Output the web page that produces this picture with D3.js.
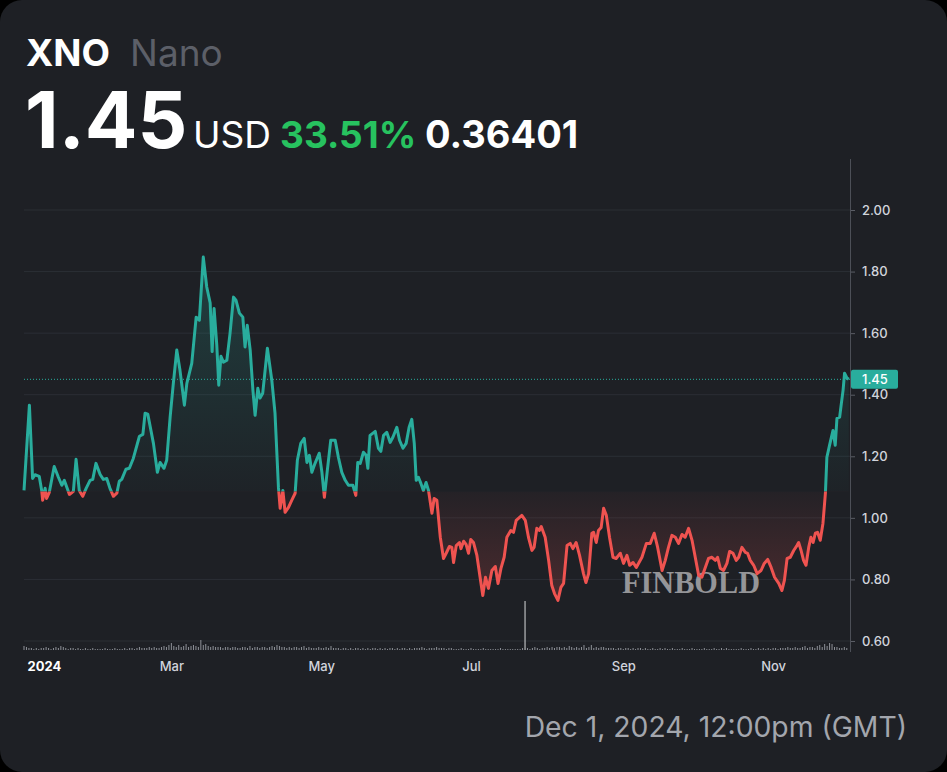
<!DOCTYPE html>
<html><head><meta charset="utf-8">
<script src="https://cdn.jsdelivr.net/npm/d3@7"></script>
<style>html,body{margin:0;padding:0;background:#000;} svg{display:block}</style>
</head><body><svg id="c" width="947" height="772"></svg>
<script>
// ---------- DATA ----------
const symbol = "XNO";
const assetName = "Nano";
const lastPrice = "1.45";
const currency = "USD";
const changePct = "33.51%";
const changeAbs = "0.36401";
const footerText = "Dec 1, 2024, 12:00pm (GMT)";
const baselinePrice = 1.086;   // price at start of period
const currentPrice = 1.45;
const yTickValues = [0.6, 0.8, 1.0, 1.2, 1.4, 1.6, 1.8, 2.0];
const xTickDates = ["2024-01-01","2024-03-01","2024-05-01","2024-07-01","2024-09-01","2024-11-01"];
const xTickLabels = ["2024","Mar","May","Jul","Sep","Nov"];

// [days since 2024-01-01, price USD]
const priceSeries = [
[0,1.089],[2.2,1.366],[3.5,1.128],[4.5,1.14],[6.2,1.135],[7.2,1.089],[7.6,1.057],[8.6,1.096],[9.2,1.063],[10.3,1.083],
[12.3,1.167],[14.0,1.132],[15.4,1.106],[16.4,1.122],[18.5,1.076],[20.1,1.086],[21.2,1.19],[22.5,1.089],[23.9,1.070],[25.3,1.096],
[26.9,1.122],[28.0,1.125],[29.3,1.177],[31.0,1.141],[32.3,1.125],[33.7,1.128],[35.0,1.096],[36.4,1.07],[37.8,1.08],[38.8,1.119],
[39.8,1.125],[41.5,1.158],[42.9,1.161],[44.5,1.193],[47.0,1.265],[48.4,1.271],[49.3,1.340],[50.4,1.337],[52.7,1.242],[54.3,1.148],
[55.4,1.18],[57.0,1.161],[58.1,1.187],[59.5,1.327],[60.8,1.437],[62.2,1.545],[63.5,1.48],[65.3,1.366],[66.3,1.437],[68.3,1.502],
[70.1,1.652],[71.4,1.642],[73.0,1.847],[74.4,1.75],[75.8,1.698],[76.6,1.54],[77.4,1.68],[78.5,1.56],[79.3,1.431],[80.2,1.525],
[81.2,1.506],[82.6,1.512],[83.9,1.60],[85.3,1.717],[86.3,1.707],[87.7,1.665],[89.1,1.652],[90.0,1.555],[90.9,1.626],[92.1,1.545],
[93.2,1.415],[94.1,1.333],[95.2,1.421],[96.1,1.389],[97.2,1.405],[99.1,1.551],[100.9,1.447],[102.2,1.34],[103.6,1.099],[104.3,1.031],
[105.4,1.089],[106.3,1.018],[107.7,1.034],[109.0,1.057],[110.4,1.08],[111.3,1.187],[112.7,1.242],[114.1,1.258],[115.2,1.18],[116.2,1.203],
[117.2,1.148],[118.5,1.177],[120.2,1.21],[121.3,1.148],[122.3,1.067],[123.5,1.154],[124.9,1.252],[126.7,1.252],[128.0,1.197],[129.4,1.148],
[130.8,1.122],[132.1,1.106],[133.9,1.106],[135.1,1.073],[135.9,1.18],[136.9,1.177],[138.2,1.213],[139.3,1.203],[140.0,1.161],[140.9,1.268],
[143.0,1.281],[144.3,1.226],[145.3,1.216],[146.4,1.268],[147.7,1.278],[149.1,1.245],[150.2,1.262],[151.8,1.294],[152.9,1.252],[154.3,1.226],
[155.6,1.242],[156.8,1.294],[157.9,1.32],[158.9,1.242],[159.7,1.122],[160.6,1.132],[161.6,1.112],[162.6,1.089],[163.7,1.115],[164.7,1.089],
[166.1,1.015],[167.0,1.063],[168.1,1.057],[169.5,0.937],[170.8,0.868],[171.9,0.885],[173.2,0.907],[174.2,0.904],[174.9,0.855],[176.0,0.91],
[177.3,0.92],[177.9,0.9],[179.0,0.924],[180.0,0.914],[181.0,0.885],[181.9,0.93],[183.0,0.92],[184.4,0.878],[185.7,0.807],[186.8,0.748],
[187.9,0.807],[189.1,0.771],[190.5,0.829],[191.9,0.842],[193.0,0.787],[194.2,0.836],[195.5,0.872],[196.6,0.937],[198.2,0.959],[199.3,0.953],
[200.4,0.992],[202.7,1.008],[204.1,0.992],[205.4,0.937],[206.8,0.894],[207.7,0.904],[208.8,0.966],[209.8,0.959],[210.6,0.972],[212.2,0.937],
[213.6,0.862],[214.9,0.78],[216.0,0.754],[217.4,0.732],[218.6,0.774],[219.7,0.787],[221.1,0.91],[222.4,0.917],[223.5,0.9],[224.8,0.92],
[226.2,0.878],[227.8,0.819],[228.8,0.79],[229.9,0.819],[231.2,0.95],[231.9,0.953],[233.0,0.92],[233.9,0.959],[235.0,0.969],[236.0,1.031],
[237.1,1.008],[238.4,0.937],[239.8,0.872],[241.1,0.868],[242.8,0.885],[244.1,0.852],[245.5,0.878],[246.6,0.846],[248.0,0.855],[249.3,0.839],
[251.6,0.872],[253.4,0.917],[255.0,0.917],[256.6,0.95],[258.0,0.904],[259.8,0.829],[261.1,0.862],[262.4,0.904],[263.8,0.943],[265.2,0.937],
[266.5,0.917],[267.9,0.946],[269.2,0.937],[270.6,0.966],[272.0,0.927],[273.0,0.885],[274.7,0.813],[276.0,0.807],[277.4,0.839],[278.7,0.868],
[280.1,0.872],[281.5,0.862],[282.4,0.872],[283.5,0.836],[284.8,0.829],[286.2,0.852],[287.3,0.891],[288.7,0.885],[290.0,0.862],[291.0,0.872],
[292.3,0.904],[293.7,0.888],[294.6,0.885],[295.7,0.862],[297.1,0.846],[298.5,0.819],[300.1,0.829],[301.4,0.852],[302.8,0.865],[304.2,0.839],
[305.6,0.807],[307.3,0.787],[308.6,0.764],[309.6,0.797],[310.7,0.868],[312.0,0.872],[313.4,0.894],[314.7,0.91],[315.4,0.92],[316.4,0.894],
[317.4,0.862],[318.4,0.846],[319.5,0.904],[320.4,0.937],[321.3,0.92],[322.2,0.95],[323.1,0.953],[324.2,0.927],[325.3,0.982],[326.3,1.08],
[326.9,1.197],[328.0,1.236],[329.4,1.284],[330.3,1.236],[331.0,1.323],[332.1,1.327],[332.8,1.372],[333.5,1.415],[334.1,1.47],[335.1,1.454],
[335.8,1.45]
];

// daily volume (relative units), index = days since 2024-01-01
const volumes = [
4,3,2,2,1,2,1,2,2,3, 2,1,2,3,2,4,3,2,1,2, 2,1,2,1,1,2,1,1,2,1, 1,1,1,2,1,1,1,2,1,1,
1,2,1,2,2,1,2,3,2,2, 2,3,2,3,2,2,3,4,3,5, 7,4,3,5,3,4,6,3,4,5, 4,3,10,5,6,4,3,4,3,3,
3,2,3,3,2,3,3,2,2,3, 3,2,4,2,3,3,2,3,3,2, 3,4,3,5,4,3,3,2,3,2, 3,3,2,3,4,2,3,2,2,2,
3,2,2,3,2,4,2,2,2,1, 2,2,1,2,1,2,2,1,2,1, 2,1,2,2,1,2,1,2,1,2, 2,1,2,1,2,2,1,2,1,2,
2,2,3,2,1,2,2,2,3,2, 2,2,1,2,2,1,1,1,2,1, 1,1,2,1,1,1,1,2,1,1, 1,1,1,1,2,1,1,1,1,1,
1,1,1,2,49,2,1,2,3,2, 1,2,2,3,2,3,2,3,3,2, 3,2,4,3,2,3,2,3,5,2, 3,5,2,3,2,3,3,2,2,2,
2,1,2,2,1,2,2,1,2,1, 2,2,1,2,1,1,2,1,1,2, 1,2,1,1,2,1,1,1,2,1, 1,1,2,1,1,1,1,2,1,1,
1,2,1,1,2,1,2,1,1,1, 1,1,2,1,1,1,2,1,1,2, 1,2,1,2,1,2,2,1,2,2, 2,3,2,2,3,2,2,3,4,2,
3,3,2,4,5,3,6,4,7,6, 3,3,2,2,3,2
];

// ---------- DRAW ----------
const W = 947, H = 772;
const teal = "#29ad9d", red = "#ef5350";
const uiFont = "Inter, 'Noto Sans', sans-serif";
const svg = d3.select("#c");
svg.append("rect").attr("width", W).attr("height", H).attr("rx", 22).attr("fill", "#1e2025");

// header
const hdr = svg.append("g").attr("font-family", uiFont);
hdr.append("text").attr("x", 26).attr("y", 66).attr("font-size", 37).attr("font-weight", 700).attr("fill", "#ffffff").text(symbol);
hdr.append("text").attr("x", 130).attr("y", 66).attr("font-size", 37).attr("font-weight", 400).attr("fill", "#5c5f68").text(assetName);
hdr.append("text").attr("x", 25).attr("y", 148).attr("font-size", 78).attr("font-weight", 700).attr("fill", "#ffffff").text(lastPrice);
hdr.append("text").attr("x", 193).attr("y", 148).attr("font-size", 37).attr("font-weight", 400).attr("fill", "#ffffff").text(currency);
hdr.append("text").attr("x", 280).attr("y", 148).attr("font-size", 37).attr("font-weight", 700).attr("fill", "#27c25f").text(changePct);
hdr.append("text").attr("x", 425).attr("y", 148).attr("font-size", 38).attr("font-weight", 700).attr("fill", "#ffffff").text(changeAbs);

// scales
const start = Date.UTC(2024, 0, 1);
const toDate = d => new Date(start + d * 864e5);
const x = d3.scaleUtc().domain([toDate(0), toDate(335.5)]).range([24, 848]);
const y = d3.scaleLinear().domain([0.6, 2.0]).range([641, 210]);
const axisX = 850;

// grid
svg.append("g").selectAll("line").data(yTickValues).join("line")
  .attr("x1", 24).attr("x2", axisX).attr("y1", d => y(d)).attr("y2", d => y(d))
  .attr("stroke", "#2b2e35").attr("stroke-width", 1);

// volume bars
const vScale = d3.scaleLinear().domain([0, 49]).range([0, 49]);
svg.append("g").selectAll("rect").data(volumes).join("rect")
  .attr("x", (d, i) => x(toDate(i)) - 0.5).attr("width", 1)
  .attr("y", d => 650 - vScale(d)).attr("height", d => vScale(d))
  .attr("fill", (d) => d > 20 ? "#d8d9dc" : "#8d9097");

// clip paths around baseline
const yb = y(baselinePrice);
const defs = svg.append("defs");
defs.append("clipPath").attr("id", "above").append("rect").attr("x", 0).attr("y", 0).attr("width", axisX).attr("height", yb);
defs.append("clipPath").attr("id", "below").append("rect").attr("x", 0).attr("y", yb).attr("width", axisX).attr("height", H - yb);
const gT = defs.append("linearGradient").attr("id", "gT").attr("gradientUnits", "userSpaceOnUse")
  .attr("x1", 0).attr("x2", 0).attr("y1", y(1.85)).attr("y2", yb);
gT.append("stop").attr("offset", 0).attr("stop-color", teal).attr("stop-opacity", 0.22);
gT.append("stop").attr("offset", 1).attr("stop-color", teal).attr("stop-opacity", 0.02);
const gR = defs.append("linearGradient").attr("id", "gR").attr("gradientUnits", "userSpaceOnUse")
  .attr("x1", 0).attr("x2", 0).attr("y1", yb).attr("y2", y(0.73));
gR.append("stop").attr("offset", 0).attr("stop-color", red).attr("stop-opacity", 0.03);
gR.append("stop").attr("offset", 1).attr("stop-color", red).attr("stop-opacity", 0.22);

const px = d => x(toDate(d[0]));
const area = d3.area().x(px).y0(yb).y1(d => y(d[1]));
const line = d3.line().x(px).y(d => y(d[1]));

svg.append("path").datum(priceSeries).attr("d", area).attr("fill", "url(#gT)").attr("clip-path", "url(#above)");
svg.append("path").datum(priceSeries).attr("d", area).attr("fill", "url(#gR)").attr("clip-path", "url(#below)");

// watermark
svg.append("text").attr("x", 622).attr("y", 593).attr("font-family", "'Liberation Serif', 'DejaVu Serif', serif")
  .attr("font-weight", 700).attr("font-size", 32).attr("textLength", 138).attr("lengthAdjust", "spacingAndGlyphs")
  .attr("fill", "#bdbdbf").attr("fill-opacity", 0.75).text("FINBOLD");

svg.append("path").datum(priceSeries).attr("d", line).attr("fill", "none").attr("stroke", teal)
  .attr("stroke-width", 3).attr("stroke-linejoin", "round").attr("clip-path", "url(#above)");
svg.append("path").datum(priceSeries).attr("d", line).attr("fill", "none").attr("stroke", red)
  .attr("stroke-width", 3).attr("stroke-linejoin", "round").attr("clip-path", "url(#below)");

// current price dotted line
svg.append("line").attr("x1", 24).attr("x2", axisX).attr("y1", y(currentPrice)).attr("y2", y(currentPrice))
  .attr("stroke", teal).attr("stroke-width", 1).attr("stroke-dasharray", "1,2");

// right axis
const yAxis = d3.axisRight(y).tickValues(yTickValues).tickFormat(d3.format(".2f")).tickSize(5).tickPadding(7);
const ya = svg.append("g").attr("transform", `translate(${axisX},0)`).call(yAxis);
ya.select(".domain").remove();
ya.selectAll(".tick line").attr("stroke", "#5a5d65");
ya.selectAll(".tick text").attr("fill", "#d1d4dc").attr("font-size", 13).attr("font-weight", 500)
  .attr("font-family", uiFont);
svg.append("line").attr("x1", axisX + 0.5).attr("x2", axisX + 0.5).attr("y1", 159).attr("y2", 652)
  .attr("stroke", "#4c4f57").attr("stroke-width", 1);

// price label box
const yc = y(currentPrice);
svg.append("rect").attr("x", 851).attr("y", yc - 9.5).attr("width", 47).attr("height", 19).attr("rx", 2).attr("fill", teal);
svg.append("text").attr("x", 862).attr("y", yc).attr("dy", "0.36em").attr("fill", "#ffffff").attr("font-size", 13)
  .attr("font-weight", 500).attr("font-family", uiFont).text(currentPrice.toFixed(2));

// x axis
const parse = d3.utcParse("%Y-%m-%d");
const xDates = xTickDates.map(parse);
const xAxis = d3.axisBottom(x).tickValues(xDates).tickSize(0).tickPadding(0)
  .tickFormat((d, i) => xTickLabels[i]);
const xa = svg.append("g").attr("transform", "translate(0,662)").call(xAxis);
xa.select(".domain").remove();
xa.selectAll(".tick text").attr("fill", "#d1d4dc").attr("font-size", 13).attr("font-weight", 500)
  .attr("font-family", uiFont).attr("dy", "0.71em");
xa.selectAll(".tick text").filter((d, i) => i === 0).attr("text-anchor", "start").attr("x", 3)
  .attr("font-weight", 700).attr("fill", "#ffffff");

// footer
svg.append("text").attr("x", 907).attr("y", 737).attr("text-anchor", "end")
  .attr("font-family", uiFont).attr("font-size", 28.3).attr("fill", "#a3a6ad").text(footerText);
</script></body></html>
